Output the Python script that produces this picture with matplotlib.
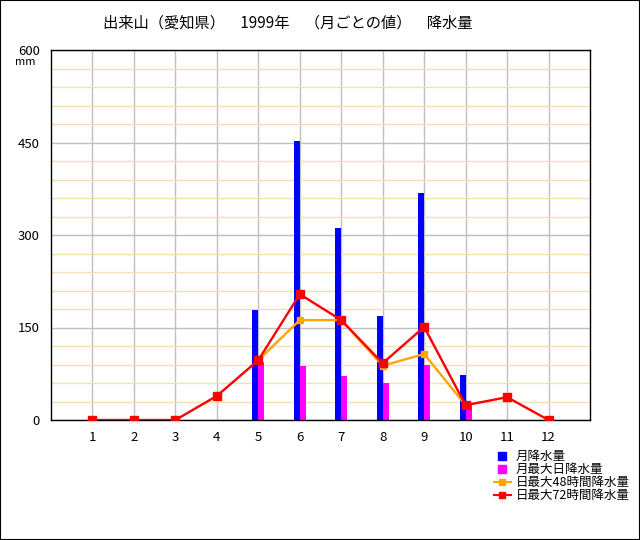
import matplotlib
matplotlib.use("Agg")
import matplotlib.pyplot as plt
from matplotlib.lines import Line2D
import numpy as np

plt.rcParams['font.family'] = ['Noto Sans CJK JP', 'DejaVu Sans']

months = [1, 2, 3, 4, 5, 6, 7, 8, 9, 10, 11, 12]
monthly = [np.nan, np.nan, np.nan, np.nan, 178, 452, 311, 169, 368, 73, np.nan, np.nan]
max_daily = [np.nan, np.nan, np.nan, np.nan, 94, 88, 71, 60, 89, 28, np.nan, np.nan]
max_48h = [np.nan, np.nan, np.nan, np.nan, 97, 162, 162, 88, 107, 24, np.nan, np.nan]
max_72h = [0, 0, 0, 39, 97, 204, 162, 92, 151, 24, 37, 0]

title = "出来山（愛知県）　1999年　（月ごとの値）　降水量"
labels = ["月降水量", "月最大日降水量", "日最大48時間降水量", "日最大72時間降水量"]

fig = plt.figure(figsize=(6.4, 5.4), dpi=100)
ax = fig.add_axes([51 / 640, 1 - 420 / 540, 539 / 640, 370 / 540])

x = np.array(months)
w = 0.145
ax.bar(x - w / 2, monthly, width=w, color="#0000FF", zorder=2)
ax.bar(x + w / 2, max_daily, width=w, color="#FF00FF", zorder=2)
ax.plot(x, max_48h, color="#FFA500", lw=1.7, marker="s", ms=4.5, zorder=3)
ax.plot(x, max_72h, color="#FF0000", lw=1.7, marker="s", ms=6, zorder=4)

ax.set_xlim(0, 13)
ax.set_ylim(0, 600)
ax.set_xticks(months)
ax.set_yticks([0, 150, 300, 450, 600])
ax.set_yticks(np.arange(0, 601, 30), minor=True)
ax.grid(which="minor", axis="y", color="#F5DEB3", lw=1, zorder=0)
ax.grid(which="major", axis="y", color="#C0C0C0", lw=1, zorder=1)
ax.grid(which="major", axis="x", color="#C0C0C0", lw=1, zorder=1)
ax.tick_params(which="both", length=0, labelsize=9.5)
ax.tick_params(axis="y", pad=8)
ax.tick_params(axis="x", pad=8)
for s in ax.spines.values():
    s.set_color("black")
    s.set_linewidth(1)

fig.text(15 / 640, 1 - 62 / 540, "mm", fontsize=8, ha="left", va="center")
fig.text(288 / 640, 1 - 23 / 540, title, fontsize=11, ha="center", va="center")

handles = [
    Line2D([], [], ls="none", marker="s", color="#0000FF", ms=6),
    Line2D([], [], ls="none", marker="s", color="#FF00FF", ms=6),
    Line2D([], [], color="#FFA500", lw=1.5, marker="s", ms=4),
    Line2D([], [], color="#FF0000", lw=1.5, marker="s", ms=4),
]
fig.legend(handles, labels, loc="upper left", bbox_to_anchor=(488 / 640, 1 - 444 / 540),
           frameon=False, fontsize=9, handlelength=1.3, handletextpad=0.4,
           labelspacing=0.0, borderpad=0)

fig.patches.append(plt.Rectangle((0, 0), 1, 1, transform=fig.transFigure,
                                 fill=False, edgecolor="black", lw=1.5))

fig.savefig("out.png", dpi=100)
